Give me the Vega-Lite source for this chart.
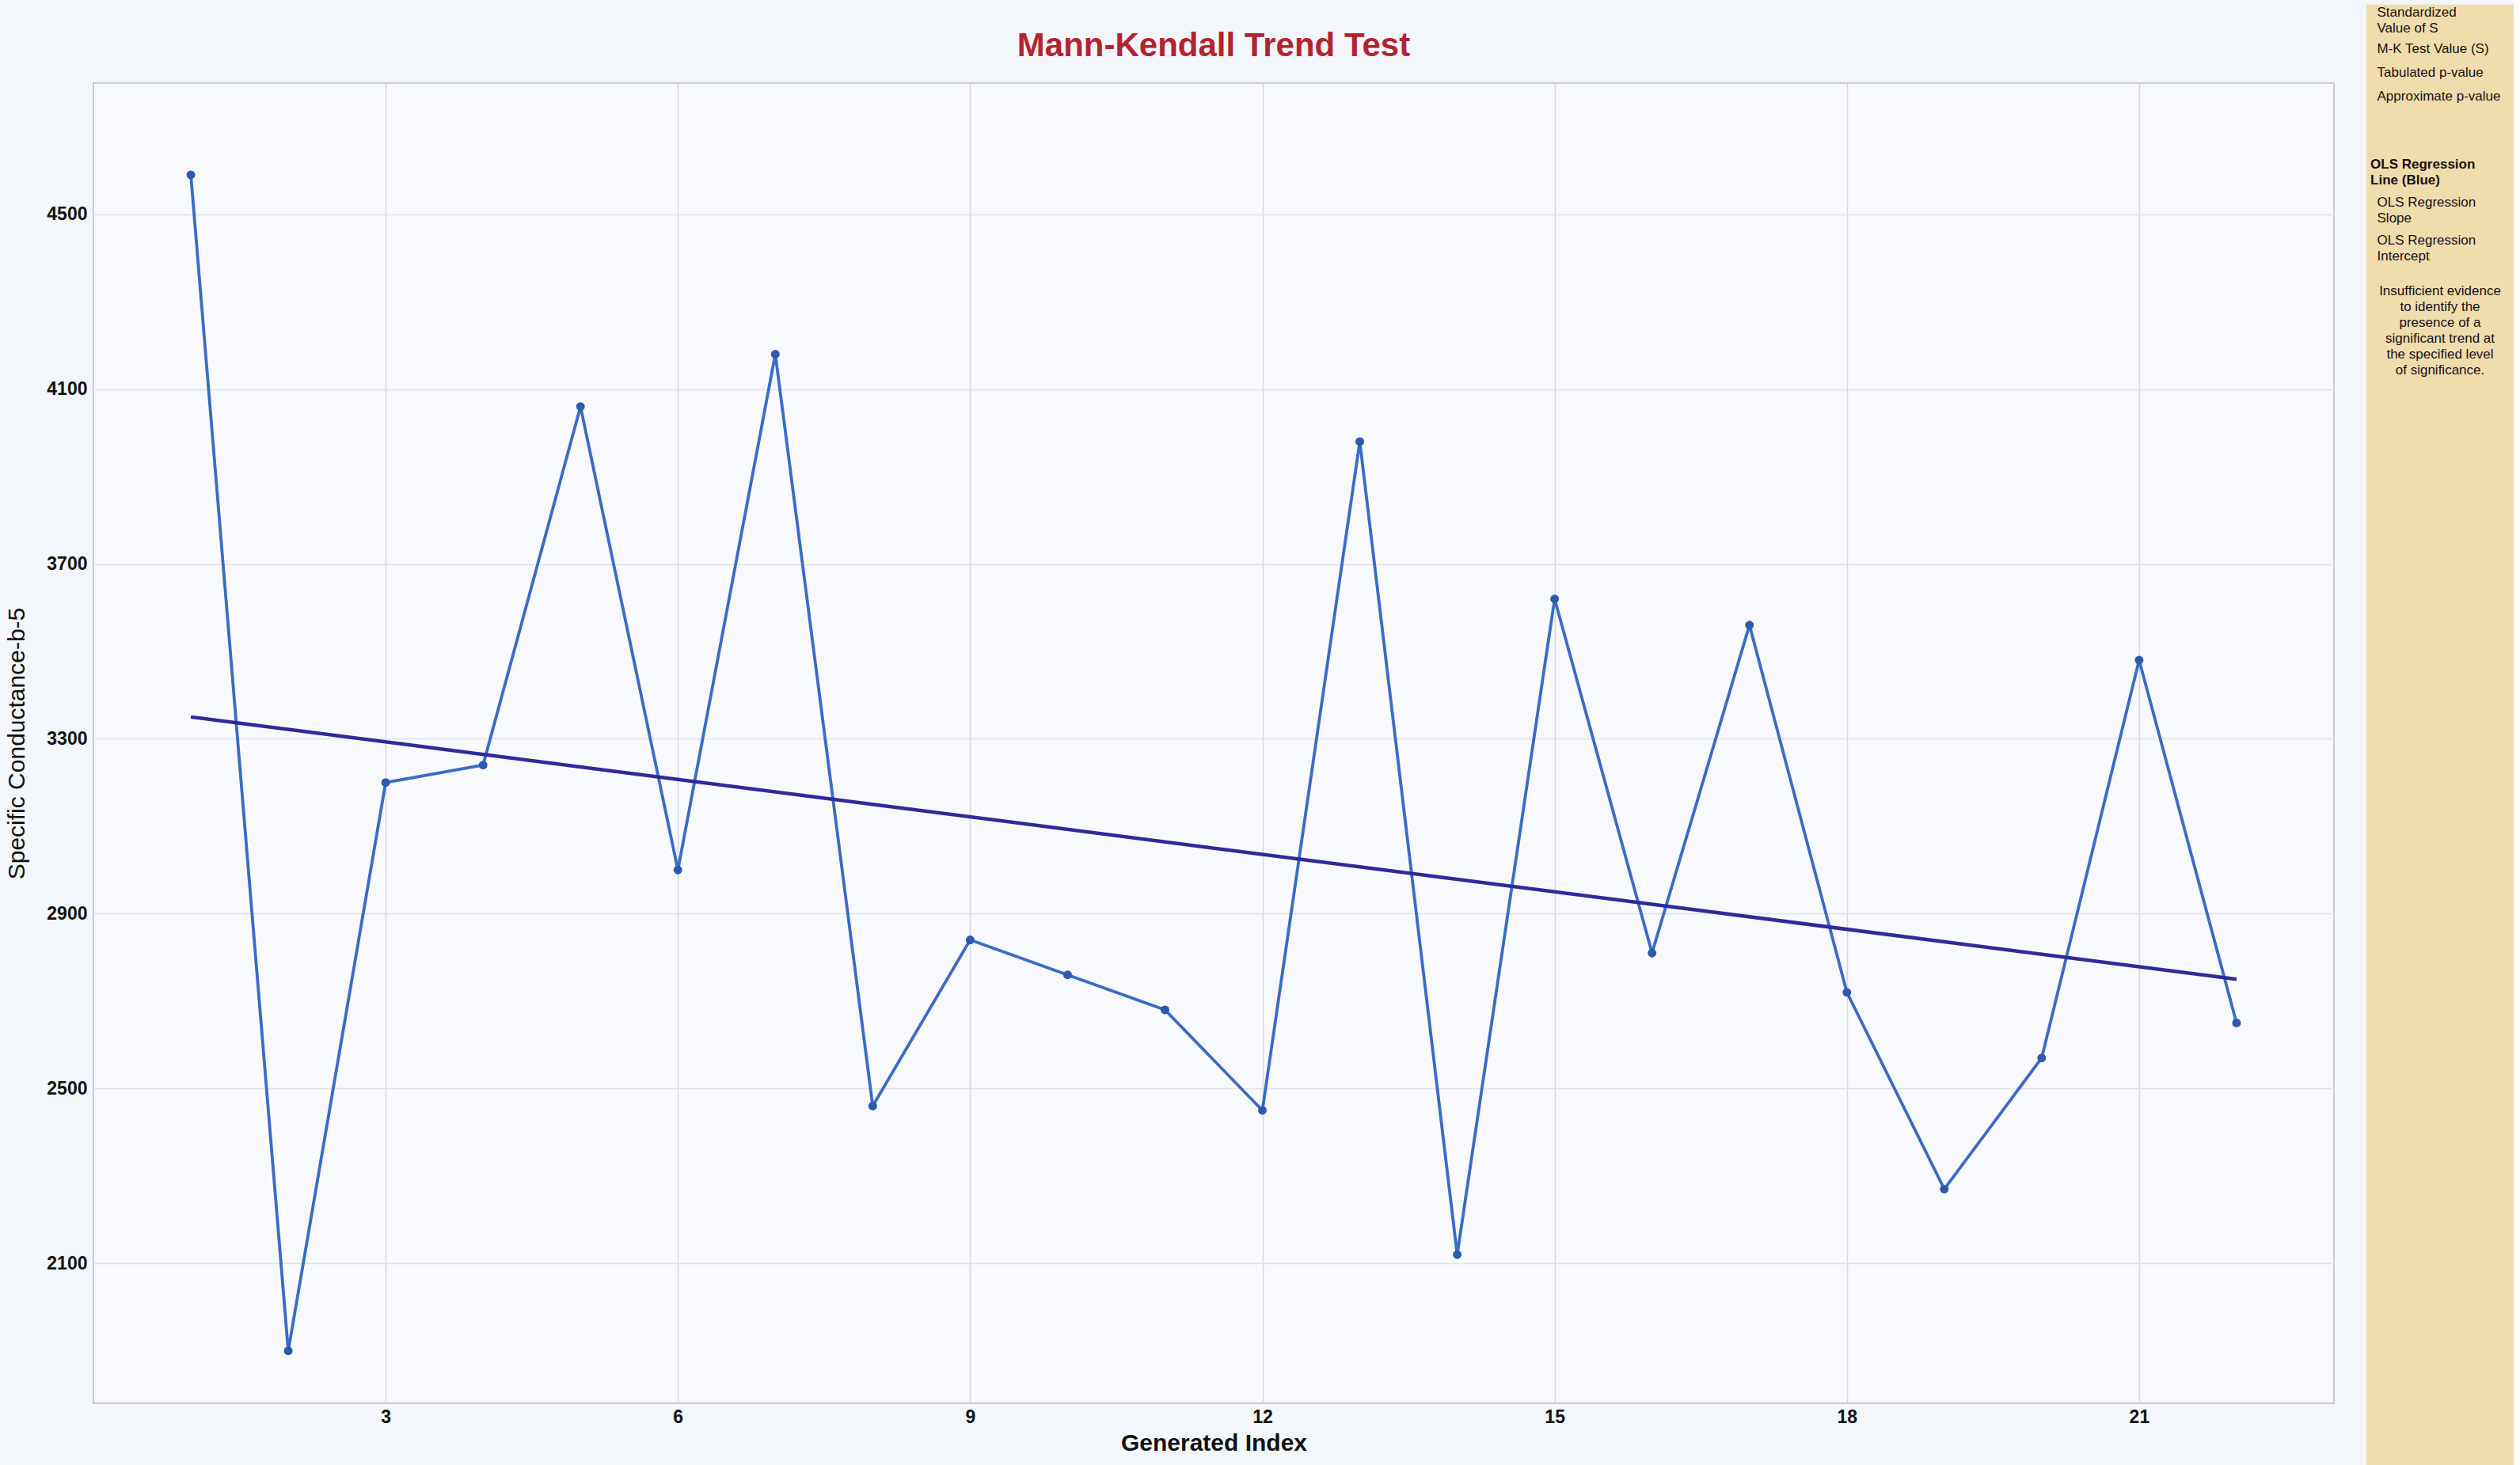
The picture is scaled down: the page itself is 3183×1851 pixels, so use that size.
{
  "$schema": "https://vega.github.io/schema/vega-lite/v6.json",
  "background": "#f3f6fa",
  "padding": {"left": 5, "top": 5, "right": 0, "bottom": 0},
  "spacing": 40,
  "config": {
    "font": "Liberation Sans",
    "view": {"stroke": null}
  },
  "datasets": {
    "series": [
      {"index": 1, "value": 4590},
      {"index": 2, "value": 1900},
      {"index": 3, "value": 3200},
      {"index": 4, "value": 3240},
      {"index": 5, "value": 4060},
      {"index": 6, "value": 3000},
      {"index": 7, "value": 4180},
      {"index": 8, "value": 2460},
      {"index": 9, "value": 2840},
      {"index": 10, "value": 2760},
      {"index": 11, "value": 2680},
      {"index": 12, "value": 2450},
      {"index": 13, "value": 3980},
      {"index": 14, "value": 2120},
      {"index": 15, "value": 3620},
      {"index": 16, "value": 2810},
      {"index": 17, "value": 3560},
      {"index": 18, "value": 2720},
      {"index": 19, "value": 2270},
      {"index": 20, "value": 2570},
      {"index": 21, "value": 3480},
      {"index": 22, "value": 2650}
    ],
    "ols": [
      {"index": 1, "value": 3350},
      {"index": 22, "value": 2750}
    ],
    "panel": [
      {"part": "background"}
    ],
    "stats": [
      {"text": "Standardized\nValue of S", "line": -2.98, "kind": "item"},
      {"text": "M-K Test Value (S)", "line": -1.57, "kind": "item"},
      {"text": "Tabulated p-value", "line": -0.65, "kind": "item"},
      {"text": "Approximate p-value", "line": 0.28, "kind": "item"},
      {"text": "OLS Regression\nLine (Blue)", "line": 2.92, "kind": "header"},
      {"text": "OLS Regression\nSlope", "line": 4.4, "kind": "item"},
      {"text": "OLS Regression\nIntercept", "line": 5.88, "kind": "item"},
      {"text": "Insufficient evidence\nto identify the\npresence of a\nsignificant trend at\nthe specified level\nof significance.", "line": 7.85, "kind": "note"}
    ]
  },
  "hconcat": [
    {
      "width": 2830,
      "height": 1668,
      "title": {
        "text": "Mann-Kendall Trend Test",
        "color": "#b22430",
        "fontSize": 42,
        "fontWeight": "bold",
        "offset": 25,
        "anchor": "middle"
      },
      "view": {"fill": "#f7f9fc", "stroke": "#c9cdd3", "strokeWidth": 2},
      "layer": [
        {
          "data": {"name": "series"},
          "mark": {"type": "line", "color": "#3a6bc5", "strokeWidth": 3.8},
          "encoding": {
            "x": {
              "field": "index",
              "type": "quantitative",
              "scale": {"domain": [0, 23], "nice": false},
              "axis": {
                "title": "Generated Index",
                "values": [3, 6, 9, 12, 15, 18, 21],
                "format": "d",
                "grid": true,
                "gridColor": "#d4d8de",
                "gridWidth": 1.5,
                "domain": false,
                "ticks": false,
                "labelFontSize": 23,
                "labelFontWeight": "bold",
                "labelColor": "#111111",
                "labelPadding": 6,
                "titleFontSize": 30,
                "titleFontWeight": "bold",
                "titleColor": "#111111",
                "titlePadding": 6
              }
            },
            "y": {
              "field": "value",
              "type": "quantitative",
              "scale": {"domain": [1780, 4800], "nice": false, "zero": false},
              "axis": {
                "title": "Specific Conductance-b-5",
                "values": [2100, 2500, 2900, 3300, 3700, 4100, 4500],
                "format": "d",
                "grid": true,
                "gridColor": "#e0e3e8",
                "gridWidth": 1.5,
                "domain": false,
                "ticks": false,
                "labelFontSize": 23,
                "labelFontWeight": "bold",
                "labelColor": "#111111",
                "labelPadding": 8,
                "titleFontSize": 30,
                "titleFontWeight": "normal",
                "titleColor": "#111111",
                "titlePadding": 22
              }
            }
          }
        },
        {
          "data": {"name": "ols"},
          "mark": {"type": "line", "color": "#2e2a9a", "strokeWidth": 4.5},
          "encoding": {
            "x": {"field": "index", "type": "quantitative"},
            "y": {"field": "value", "type": "quantitative"}
          }
        },
        {
          "data": {"name": "series"},
          "mark": {"type": "point", "filled": true, "size": 120, "color": "#2d5aae", "opacity": 1},
          "encoding": {
            "x": {"field": "index", "type": "quantitative"},
            "y": {"field": "value", "type": "quantitative"}
          }
        }
      ]
    },
    {
      "width": 186,
      "height": 1746,
      "view": {"stroke": null},
      "layer": [
        {
          "data": {"name": "panel"},
          "mark": {"type": "rect", "color": "#f1dcae", "clip": false},
          "encoding": {
            "x": {"datum": -0.5, "type": "quantitative", "scale": {"domain": [-0.5, 5], "nice": false, "zero": false}, "axis": null},
            "x2": {"datum": 5},
            "y": {"datum": -3.05, "type": "quantitative", "scale": {"domain": [0, 53.72], "reverse": true, "nice": false, "zero": false}, "axis": null},
            "y2": {"datum": 53.72}
          }
        },
        {
          "data": {"name": "stats"},
          "transform": [{"filter": "datum.kind === 'header'"}],
          "mark": {"type": "text", "align": "left", "baseline": "top", "fontSize": 17, "lineHeight": 20, "lineBreak": "\n", "fontWeight": "bold", "color": "#111111"},
          "encoding": {
            "x": {"datum": -0.35, "type": "quantitative"},
            "y": {"field": "line", "type": "quantitative"},
            "text": {"field": "text", "type": "nominal"}
          }
        },
        {
          "data": {"name": "stats"},
          "transform": [{"filter": "datum.kind === 'item'"}],
          "mark": {"type": "text", "align": "left", "baseline": "top", "fontSize": 17, "lineHeight": 20, "lineBreak": "\n", "color": "#111111"},
          "encoding": {
            "x": {"datum": -0.1, "type": "quantitative"},
            "y": {"field": "line", "type": "quantitative"},
            "text": {"field": "text", "type": "nominal"}
          }
        },
        {
          "data": {"name": "stats"},
          "transform": [{"filter": "datum.kind === 'note'"}],
          "mark": {"type": "text", "align": "center", "baseline": "top", "fontSize": 17, "lineHeight": 20, "lineBreak": "\n", "color": "#111111"},
          "encoding": {
            "x": {"datum": 2.25, "type": "quantitative"},
            "y": {"field": "line", "type": "quantitative"},
            "text": {"field": "text", "type": "nominal"}
          }
        }
      ]
    }
  ]
}
